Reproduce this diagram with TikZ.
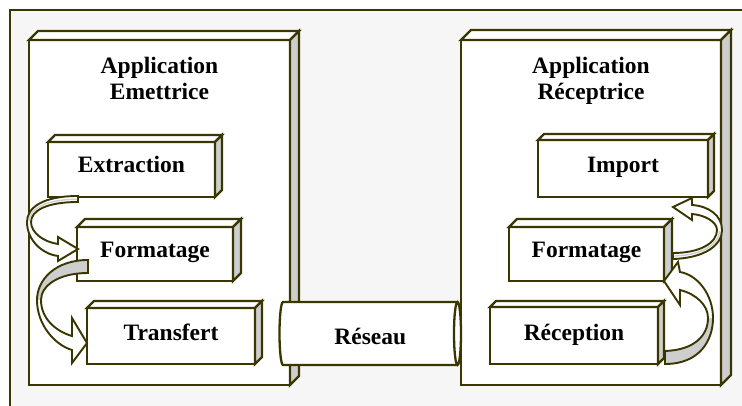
\documentclass[tikz,border=0pt]{standalone}
\usepackage{fontspec}
\setmainfont{Liberation Serif}
\usetikzlibrary{calc}
\definecolor{ink}{RGB}{58,54,0}
\definecolor{sidegray}{RGB}{206,206,206}
\definecolor{paper}{RGB}{246,246,246}

% draws the top and right faces of a box whose front face is the node #1
\newcommand\solidbox[2]{%
  \draw[edge, fill=white] (#1.north west) -- ++(#2,-#2) -- ($(#1.north east)+(#2,-#2)$) -- (#1.north east) -- cycle;
  \draw[edge, fill=sidegray] (#1.north east) -- ($(#1.north east)+(#2,-#2)$) -- ($(#1.south east)+(#2,-#2)$) -- (#1.south east) -- cycle;
}

\begin{document}
\begin{tikzpicture}[x=1pt, y=-1pt,
  edge/.style={draw=ink, line width=2.3pt, line join=miter},
  bent/.style={draw=ink, line width=1.9pt, line join=miter},
  lettering/.style={font=\fontsize{23.5pt}{26pt}\selectfont\bfseries},
  face/.style={edge, fill=white, rectangle, inner sep=0pt, outer sep=0pt,
    lettering, text height=16pt, text depth=8pt},
  heading/.style={lettering, inner sep=0pt, anchor=base},
]
\useasboundingbox (0,0) rectangle (742,406);
\clip (0,0) rectangle (742,406);
\fill[white] (0,0) rectangle (742,406);
\draw[edge, line width=2pt, fill=paper] (10,10) rectangle (760,420);

% the two applications
\node[face, minimum width=261pt, minimum height=345pt] (appE) at (159.5,212.5) {};
\solidbox{appE}{9}
\node[heading] (appEa) at (159.5,74) {Application};
\node[heading] (appEb) at (159.5,100) {Emettrice};

\node[face, minimum width=260pt, minimum height=345pt] (appR) at (591,212.5) {};
\solidbox{appR}{10}
\node[heading] (appRa) at (591,74) {Application};
\node[heading] (appRb) at (591,100) {Réceptrice};

% steps of the sending application
\node[face, minimum width=167pt, minimum height=55pt, text height=16pt, text depth=10pt] (extr) at (131.5,169.5) {Extraction};
\solidbox{extr}{7}
\node[face, minimum width=156pt, minimum height=54pt] (fmtE) at (155,254) {Formatage};
\solidbox{fmtE}{8}
\node[face, minimum width=168pt, minimum height=56pt] (trans) at (171,336) {Transfert};
\solidbox{trans}{7}

% steps of the receiving application
\node[face, minimum width=170pt, minimum height=57pt, text depth=7pt] (impo) at (623,168.5) {Import};
\solidbox{impo}{6}
\node[face, minimum width=155pt, minimum height=54pt] (fmtR) at (586.5,254) {Formatage};
\solidbox{fmtR}{8}
\node[face, minimum width=168pt, minimum height=57pt, text depth=7pt] (recep) at (574,335.5) {Réception};
\solidbox{recep}{6}

% network cylinder
\node[rectangle, fill=white, inner sep=0pt, outer sep=0pt, minimum width=174.5pt,
  minimum height=63pt, lettering, text height=21pt, text depth=0pt] (net) at (370.25,333.5) {Réseau};
\draw[edge] (net.north east) -- (net.north west)
  arc[start angle=270, end angle=90, x radius=3.5, y radius=31.5] -- (net.south east);
\draw[edge, fill=white] (net.east) ellipse[x radius=3.5, y radius=31.5];

% Extraction -> Formatage
\draw[bent, fill=white] (78,196) .. controls (42,196) and (27,208) .. (27,222)
  .. controls (27,240) and (42,254) .. (58,256) -- (58,261) -- (78,249) -- (58,237) -- (58,244)
  .. controls (44,242) and (31,233) .. (31,222) .. controls (31,211) and (46,202) .. (78,202) -- cycle;
\draw[sidegray, line width=1.4pt] (77,199.3) .. controls (44,199.3) and (29.3,210) .. (29.3,221);

% Formatage -> Transfert
\fill[white] (88,260) .. controls (55,260) and (37,280) .. (37,300)
  .. controls (37,325) and (55,345) .. (72,350) -- (72,363) -- (87,343) -- (72,318) -- (72,336)
  .. controls (55,331) and (41,318) .. (41,300) .. controls (41,286) and (58,273) .. (88,273) -- cycle;
\fill[sidegray] (88,260) .. controls (55,260) and (37,280) .. (37,300) -- (41,300)
  .. controls (41,286) and (58,273) .. (88,273) -- cycle;
\draw[bent] (88,260) .. controls (55,260) and (37,280) .. (37,300)
  .. controls (37,325) and (55,345) .. (72,350) -- (72,363) -- (87,343) -- (72,318) -- (72,336)
  .. controls (55,331) and (41,318) .. (41,300) .. controls (41,286) and (58,273) .. (88,273) -- cycle;

% Formatage -> Import
\draw[bent, fill=white] (673,259) .. controls (705,258) and (722,245) .. (722,230)
  .. controls (722,215) and (708,206) .. (692,205) -- (692,198) -- (673,207) -- (692,220) -- (692,214)
  .. controls (705,215) and (717,222) .. (717,230) .. controls (717,243) and (700,253) .. (673,253) -- cycle;
\draw[sidegray, line width=1.4pt] (674,256) .. controls (702,255.5) and (719.5,244) .. (719.5,231);

% Reception -> Formatage
\fill[white] (665,364) .. controls (700,364) and (713,340) .. (713,318)
  .. controls (713,295) and (698,275) .. (680,272) -- (678,262) -- (664,281) -- (680,305) -- (680,290)
  .. controls (696,294) and (708,305) .. (708,318) .. controls (708,335) and (695,350) .. (665,351) -- cycle;
\fill[sidegray] (665,364) .. controls (700,364) and (713,340) .. (713,318) -- (708,318)
  .. controls (708,335) and (695,350) .. (665,351) -- cycle;
\draw[bent] (665,364) .. controls (700,364) and (713,340) .. (713,318)
  .. controls (713,295) and (698,275) .. (680,272) -- (678,262) -- (664,281) -- (680,305) -- (680,290)
  .. controls (696,294) and (708,305) .. (708,318) .. controls (708,335) and (695,350) .. (665,351) -- cycle;
\end{tikzpicture}
\end{document}
